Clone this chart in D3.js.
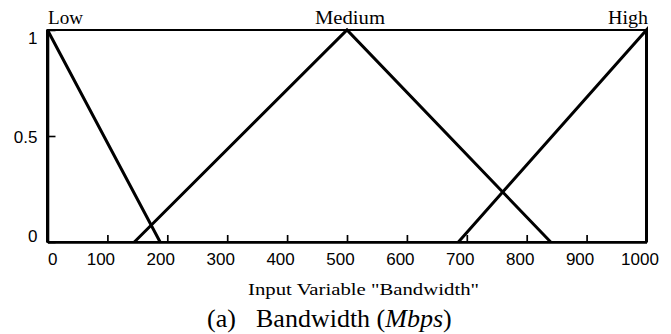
<!DOCTYPE html>
<html>
<head>
<meta charset="utf-8">
<script src="https://cdn.jsdelivr.net/npm/d3@7"></script>
<style>
  html, body { margin: 0; padding: 0; background: #fff; }
  svg { display: block; }
</style>
</head>
<body>
<svg id="chart" width="671" height="334"></svg>
<script>
// ---- data ----
const xTicks = [0, 100, 200, 300, 400, 500, 600, 700, 800, 900, 1000];
const yTicks = [0, 0.5, 1];
const setNames = ["Low", "Medium", "High"];
const lowX = [0, 0, 188];
const lowY = [0, 1, 0];
const mediumX = [145, 500, 840];
const mediumY = [0, 1, 0];
const highX = [686, 1000, 1000];
const highY = [0, 1, 0];
const xTitle = 'Input Variable "Bandwidth"';

// ---- layout ----
const svg = d3.select("#chart");
const plotLeft = 47.5, plotRight = 646.5, plotTop = 30, plotBottom = 242;
const x = d3.scaleLinear().domain([0, 1000]).range([plotLeft, plotRight]);
const y = d3.scaleLinear().domain([0, 1]).range([plotBottom, plotTop]);

// box (top & right)
svg.append("rect")
  .attr("x", x(0)).attr("y", y(1))
  .attr("width", x(1000) - x(0)).attr("height", y(0) - y(1))
  .attr("fill", "none").attr("stroke", "#000").attr("stroke-width", 2);

// x axis
const gx = svg.append("g").attr("transform", `translate(0,${y(0)})`)
  .call(d3.axisBottom(x).tickValues(xTicks).tickFormat(d => String(d))
    .tickSizeInner(-7).tickSizeOuter(0).tickPadding(11));
gx.select(".domain").attr("stroke-width", 2.6);
gx.selectAll(".tick line").attr("stroke-width", 1.7);
gx.selectAll(".tick text")
  .attr("font-family", "'Liberation Sans', Arial, sans-serif")
  .attr("font-size", 17).attr("fill", "#000")
  .attr("text-anchor", d => d === 0 ? "start" : "middle")
  .attr("dx", d => d === 0 ? 0 : -7);

// y axis
const gy = svg.append("g").attr("transform", `translate(${x(0)},0)`)
  .call(d3.axisLeft(y).tickValues(yTicks).tickFormat(d => String(d))
    .tickSizeInner(-8).tickSizeOuter(0).tickPadding(10));
gy.select(".domain").attr("stroke-width", 2.6);
gy.selectAll(".tick line").attr("stroke-width", 1.6);
gy.selectAll(".tick text")
  .attr("font-family", "'Liberation Sans', Arial, sans-serif")
  .attr("font-size", 17).attr("fill", "#000")
  .attr("dy", d => d === 1 ? "0.78em" : d === 0 ? "-0.02em" : "0.38em");
svg.selectAll(".domain").attr("stroke", "#000");
svg.selectAll(".tick line").attr("stroke", "#000");

// membership functions
const series = [
  { name: setNames[0], xs: lowX, ys: lowY },
  { name: setNames[1], xs: mediumX, ys: mediumY },
  { name: setNames[2], xs: highX, ys: highY }
];
const line = d3.line().x(d => x(d[0])).y(d => y(d[1]));
svg.append("g").selectAll("path").data(series).join("path")
  .attr("d", s => line(s.xs.map((v, i) => [v, s.ys[i]])))
  .attr("fill", "none").attr("stroke", "#000")
  .attr("stroke-width", 3).attr("stroke-linejoin", "miter");

// set labels
const labelInfo = [
  { name: setNames[0], xv: 0, anchor: "start", dx: 0.5, len: 35 },
  { name: setNames[1], xv: 500, anchor: "middle", dx: 3, len: 70 },
  { name: setNames[2], xv: 1000, anchor: "end", dx: 1.5, len: 40 }
];
svg.append("g").selectAll("text").data(labelInfo).join("text")
  .attr("x", d => x(d.xv) + d.dx).attr("y", 23.5)
  .attr("text-anchor", d => d.anchor)
  .attr("font-family", "'Liberation Serif', 'Times New Roman', serif")
  .attr("font-size", 18.5)
  .attr("textLength", d => d.len).attr("lengthAdjust", "spacingAndGlyphs")
  .text(d => d.name);

// axis title
svg.append("text")
  .attr("x", 248).attr("y", 295)
  .attr("font-family", "'Liberation Serif', 'Times New Roman', serif")
  .attr("font-size", 17.5)
  .attr("textLength", 231).attr("lengthAdjust", "spacingAndGlyphs")
  .text(xTitle);

// caption
const cap = svg.append("text")
  .attr("y", 327)
  .attr("font-family", "'Liberation Serif', 'Times New Roman', serif")
  .attr("font-size", 26);
cap.append("tspan").attr("x", 207).text("(a)");
cap.append("tspan").attr("x", 256).text("Bandwidth (");
cap.append("tspan").attr("font-style", "italic").text("Mbps");
cap.append("tspan").text(")");
</script>
</body>
</html>
